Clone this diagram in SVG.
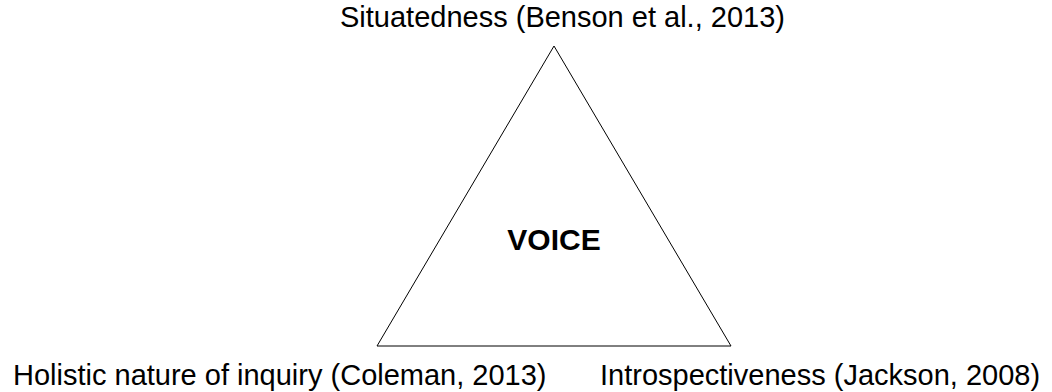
<svg xmlns="http://www.w3.org/2000/svg" width="1052" height="392" viewBox="0 0 1052 392">
<style>
.lbl{font-family:"Liberation Sans",Arial,sans-serif;font-size:29px;fill:#000}
.title{font-family:"Liberation Sans",Arial,sans-serif;font-size:30px;font-weight:bold;fill:#000}
.tri{fill:#fff;stroke:#000;stroke-width:1}
</style>
<rect width="1052" height="392" fill="#fff"/>
<g id="triangle">
<polygon class="tri" points="554,46 377,346 731,346"/>
<text class="title" x="554" y="250" text-anchor="middle">VOICE</text>
</g>
<g id="top-label"><text class="lbl" x="340" y="27">Situatedness (Benson et al., 2013)</text></g>
<g id="left-label"><text class="lbl" x="13" y="385">Holistic nature of inquiry (Coleman, 2013)</text></g>
<g id="right-label"><text class="lbl" x="600" y="385">Introspectiveness (Jackson, 2008)</text></g>
<g id="connectors"></g>
</svg>
